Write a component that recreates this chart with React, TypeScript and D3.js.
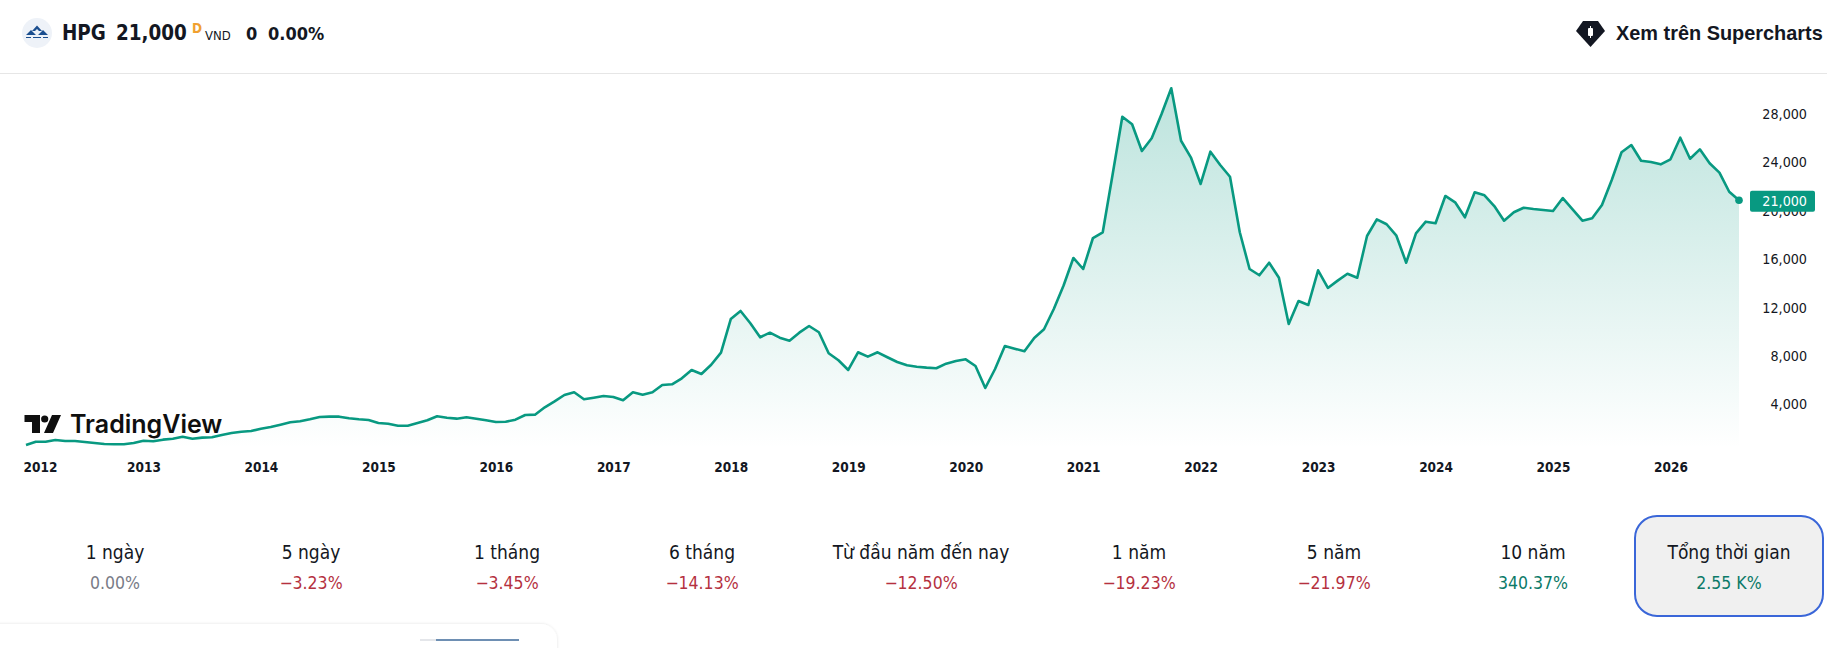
import { type FC, useEffect, useRef } from 'react'
import * as d3 from 'd3'

// monthly closes, one array per year
const close2012 = [770, 1040, 1040, 1180, 1100, 1100, 1020, 935, 850, 830, 830, 935]
const close2013 = [1125, 1075, 1210, 1290, 1455, 1290, 1375, 1405, 1600, 1760, 1870, 1930]
const close2014 = [2115, 2260, 2450, 2645, 2730, 2895, 3085, 3110, 3110, 2975, 2895, 2835]
const close2015 = [2590, 2530, 2365, 2365, 2590, 2810, 3140, 3025, 2945, 3060, 2945, 2810]
const close2016 = [2670, 2695, 2860, 3250, 3275, 3885, 4380, 4900, 5125, 4545, 4680, 4820]
const close2017 = [4735, 4465, 5125, 4925, 5125, 5730, 5785, 6280, 6970, 6635, 7405, 8400]
const close2018 = [11180, 11845, 10830, 9670, 10050, 9640, 9390, 10050, 10605, 10085, 8350, 7770]
const close2019 = [6970, 8430, 8070, 8430, 8020, 7630, 7355, 7240, 7160, 7110, 7490, 7710]
const close2020 = [7850, 7300, 5480, 7050, 8950, 8730, 8515, 9615, 10330, 12010, 13950, 16225]
const close2021 = [15315, 17875, 18350, 23085, 27900, 27275, 25065, 26115, 28100, 30250, 25915, 24545]
const close2022 = [22340, 25010, 23910, 22940, 18350, 15315, 14795, 15835, 14595, 10770, 12670, 12340]
const close2023 = [15205, 13745, 14350, 14925, 14595, 18040, 19420, 19010, 18065, 15835, 18265, 19225]
const close2024 = [19090, 21350, 20825, 19585, 21655, 21405, 20520, 19305, 20000, 20380, 20275, 20190]
const close2025 = [20110, 21180, 20250, 19305, 19505, 20605, 22670, 24960, 25560, 24265, 24155, 23965]
const close2026 = [24380, 26165, 24430, 25205, 24050, 23275, 21700, 21000]

const closes = [
	...close2012,
	...close2013,
	...close2014,
	...close2015,
	...close2016,
	...close2017,
	...close2018,
	...close2019,
	...close2020,
	...close2021,
	...close2022,
	...close2023,
	...close2024,
	...close2025,
	...close2026,
]

const years = d3.range(2012, 2027)
const priceTicks = [4000, 8000, 12000, 16000, 20000, 24000, 28000]
const lastPrice = 21000

const perfLabels = [
	'1 ngày',
	'5 ngày',
	'1 tháng',
	'6 tháng',
	'Từ đầu năm đến nay',
	'1 năm',
	'5 năm',
	'10 năm',
	'Tổng thời gian',
]
const perfValues = [
	'0.00%',
	'−3.23%',
	'−3.45%',
	'−14.13%',
	'−12.50%',
	'−19.23%',
	'−21.97%',
	'340.37%',
	'2.55 K%',
]
const perfCenters = [115, 311, 507, 702, 921, 1139, 1334, 1533, 1729]

const UP = '#089981'
const UI_FONT = '"DejaVu Sans", sans-serif'

const perfColor = (v: string) => {
	if (v.startsWith('−')) return '#b5313f'
	if (v === '0.00%') return '#787b86'
	return '#0b7a68'
}

const PriceChart: FC = () => {
	const ref = useRef<SVGGElement>(null)

	useEffect(() => {
		const g = d3.select(ref.current)
		g.selectAll('*').remove()

		const x = d3
			.scaleLinear()
			.domain([0, closes.length - 1])
			.range([26, 1739])
		const y = d3.scaleLinear().domain([4000, 28000]).range([405.9, 115.5])
		const bottom = 449

		const area = d3
			.area<number>()
			.x((_, i) => x(i))
			.y0(bottom)
			.y1((d) => y(d))
		const line = d3
			.line<number>()
			.x((_, i) => x(i))
			.y((d) => y(d))

		g.append('path').attr('d', area(closes)).attr('fill', 'url(#areaFill)')

		// price axis, the last price tag sits on top of it
		const yAxis = d3
			.axisRight(y)
			.tickValues(priceTicks)
			.tickSize(0)
			.tickFormat((d) => d3.format(',')(d as number))
		const yGroup = g
			.append('g')
			.attr('transform', 'translate(1807,-1.5)')
			.call(yAxis)
		yGroup.select('.domain').remove()
		yGroup
			.selectAll('text')
			.attr('x', 0)
			.attr('text-anchor', 'end')
			.style('font', '14.2px ' + UI_FONT)
			.style('font-stretch', 'condensed')
			.attr('fill', '#131722')

		const xAxis = d3
			.axisBottom(x)
			.tickValues(years.map((yr) => (yr - 2012) * 12))
			.tickSize(0)
			.tickFormat((d) => String(2012 + (d as number) / 12))
		const xGroup = g
			.append('g')
			.attr('transform', 'translate(0,460)')
			.call(xAxis)
		xGroup.select('.domain').remove()
		xGroup
			.selectAll('text')
			.attr('y', 0)
			.attr('dy', '0.9em')
			.style('font', 'bold 13.5px ' + UI_FONT)
			.style('font-stretch', 'condensed')
			.attr('fill', '#131722')
		// first label gets pushed right so it stays on the page
		xGroup.select('.tick text').attr('dx', 14)

		g.append('path')
			.attr('d', line(closes))
			.attr('fill', 'none')
			.attr('stroke', UP)
			.attr('stroke-width', 2.6)
			.attr('stroke-linejoin', 'round')

		g.append('circle')
			.attr('cx', x(closes.length - 1))
			.attr('cy', y(lastPrice))
			.attr('r', 3.8)
			.attr('fill', UP)

		g.append('rect')
			.attr('x', 1750)
			.attr('y', y(lastPrice) - 9.5)
			.attr('width', 65)
			.attr('height', 21)
			.attr('rx', 2)
			.attr('fill', UP)
		g.append('text')
			.attr('x', 1807)
			.attr('y', y(lastPrice) + 5.5)
			.attr('text-anchor', 'end')
			.attr('fill', '#fff')
			.style('font', '14.2px ' + UI_FONT)
			.style('font-stretch', 'condensed')
			.text(d3.format(',')(lastPrice))
	}, [])

	return <g ref={ref} />
}

export default function App() {
	return (
		<>
			<style>{'body{margin:0}'}</style>
			<svg
				width={1827}
				height={648}
				viewBox="0 0 1827 648"
				style={{ display: 'block', background: '#fff' }}
			>
				<defs>
					<linearGradient id="areaFill" gradientUnits="userSpaceOnUse" x1="0" y1="75" x2="0" y2="449">
						<stop offset="0" stopColor={UP} stopOpacity={0.28} />
						<stop offset="1" stopColor={UP} stopOpacity={0} />
					</linearGradient>
					<filter id="cardShadow" x="-5%" y="-30%" width="110%" height="160%">
						<feDropShadow dx="0" dy="0" stdDeviation="1.5" floodColor="#000" floodOpacity="0.12" />
					</filter>
				</defs>

				{/* header */}
				<circle cx={37} cy={33} r={15} fill="#eef2f8" />
				<path d="M32 31 L37 25.5 L42 31 L39 31 L37 29 L35 31 Z" fill="#1c4f8f" />
				<path d="M26 35 L31 30 L36 35 Z M38 35 L43 30 L48 35 Z" fill="#1c4f8f" />
				<path d="M26 37.5 H31 M33 37.5 H41 M43 37.5 H48" stroke="#1c4f8f" strokeWidth={1.2} />
				<g fill="#131722" style={{ fontFamily: UI_FONT, fontStretch: 'condensed' }}>
					<text x={62} y={40} fontSize={20.4} fontWeight={600}>HPG</text>
					<text x={116} y={40} fontSize={20.4} fontWeight={600}>21,000</text>
					<text x={192} y={33} fontSize={13.5} fontWeight={600} fill="#f0a030">D</text>
					<text x={205} y={40} fontSize={13}>VND</text>
					<text x={246} y={40} fontSize={18} fontWeight={600}>0</text>
					<text x={268} y={40} fontSize={18} fontWeight={600}>0.00%</text>
				</g>
				<path d="M1583 21 H1598 L1605 31 L1590.5 47 L1576 31 Z" fill="#131722" />
				<path d="M1590.5 26 V38" stroke="#fff" strokeWidth={1} />
				<rect x={1588} y={28} width={5} height={8} rx={1} fill="#fff" />
				<text
					x={1616}
					y={39.5}
					fontFamily='"Liberation Sans", Arial, sans-serif'
					fontWeight={700}
					fontSize={19.9}
					fill="#131722"
				>
					Xem trên Supercharts
				</text>
				<line x1={0} x2={1827} y1={73.5} y2={73.5} stroke="#e6e6e6" />

				<PriceChart />

				{/* watermark */}
				<path d="M24.5 415 H40 V433 H32 V422 H24.5 Z M52 415 H61 L53 433 H44 Z" fill="#0f0f0f" />
				<circle cx={44.7} cy={419} r={3.6} fill="#0f0f0f" />
				<text x={70} y={433} fontFamily="Inter, sans-serif" fontWeight={600} fontSize={25} fill="#0f0f0f">
					TradingView
				</text>

				{/* performance row */}
				<rect x={1635} y={516} width={188} height={100} rx={22} fill="#f0f0f0" stroke="#3a66d8" strokeWidth={2} />
				<g textAnchor="middle" style={{ fontFamily: UI_FONT, fontStretch: 'condensed' }}>
					{perfLabels.map((label, i) => (
						<text key={label} x={perfCenters[i]} y={559} fontSize={19} fill="#131722">
							{label}
						</text>
					))}
					{perfValues.map((v, i) => (
						<text key={perfLabels[i]} x={perfCenters[i]} y={589} fontSize={17.5} fill={perfColor(v)}>
							{v}
						</text>
					))}
				</g>

				{/* next card peeking in at the bottom */}
				<rect x={-20} y={624} width={577} height={60} rx={16} fill="#fff" filter="url(#cardShadow)" />
				<rect x={420} y={639} width={16} height={2} fill="#e4e6ea" />
				<rect x={436} y={639} width={83} height={2} fill="#6e8fb3" />
			</svg>
		</>
	)
}
